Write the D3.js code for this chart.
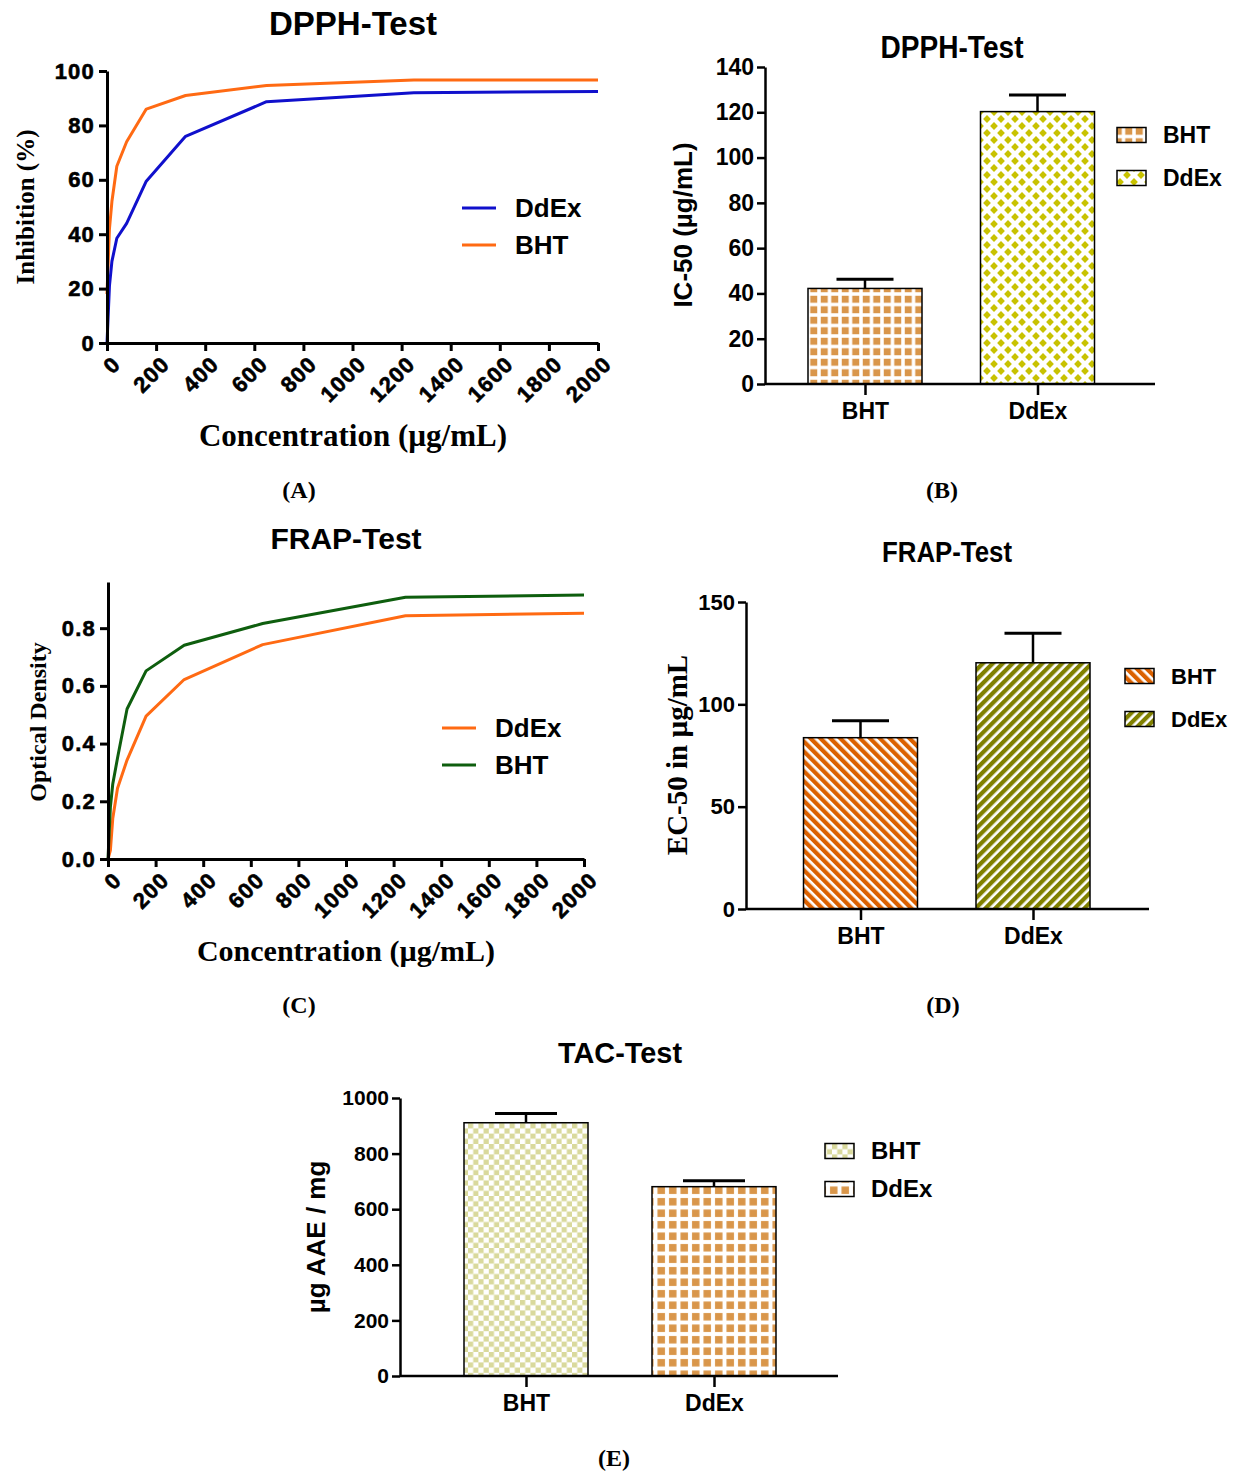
<!DOCTYPE html>
<html lang="en">
<head>
<meta charset="utf-8">
<title>Antioxidant tests</title>
<script src="https://d3js.org/d3.v7.min.js"></script>
<style>
  body { margin: 0; background: #fff; }
  svg { display: block; }
  .sans { font-family: "Liberation Sans", Arial, sans-serif; font-weight: bold; }
  .serif { font-family: "Liberation Serif", "Times New Roman", serif; font-weight: bold; }
  .heavy { stroke: #000; stroke-width: 0.6px; }
</style>
</head>
<body>
<div id="chart"></div>
<script>
// ---- data ----
const conc = [0, 10, 20, 40, 80, 160, 320, 650, 1250, 2000];
const dpphDdEx = [0, 21, 30, 38.5, 44, 59.5, 76, 88.7, 92, 92.5];
const dpphBHT = [18, 42, 52, 65, 74, 86, 91, 94.7, 96.7, 96.7];
const frapDdEx = [0, 0.03, 0.14, 0.245, 0.343, 0.495, 0.622, 0.743, 0.843, 0.852];
const frapBHT = [0, 0.18, 0.26, 0.35, 0.52, 0.652, 0.741, 0.816, 0.907, 0.915];
const concTicks = [0, 200, 400, 600, 800, 1000, 1200, 1400, 1600, 1800, 2000];

const groups = ["BHT", "DdEx"];
const ic50Mean = [42.2, 120.3];
const ic50Err = [4.1, 7.3];
const ec50Mean = [83.7, 120.3];
const ec50Err = [8.3, 14.4];
const tacMean = [911, 681];
const tacErr = [33, 21];

const W = 1235, H = 1472;
const svg = d3.select("#chart").append("svg").attr("width", W).attr("height", H);
const defs = svg.append("defs");

// ---- fill patterns ----
function squares(id, size, box, color) {
  const p = defs.append("pattern").attr("id", id).attr("patternUnits", "userSpaceOnUse")
    .attr("width", size).attr("height", size);
  p.append("rect").attr("width", size).attr("height", size).attr("fill", "#fff");
  p.append("rect").attr("x", (size - box) / 2).attr("y", (size - box) / 2)
    .attr("width", box).attr("height", box).attr("fill", color);
}
function stripes(id, angle, pitch, band, color) {
  const p = defs.append("pattern").attr("id", id).attr("patternUnits", "userSpaceOnUse")
    .attr("width", pitch).attr("height", pitch).attr("patternTransform", `rotate(${angle})`);
  p.append("rect").attr("width", pitch).attr("height", pitch).attr("fill", "#fff");
  p.append("rect").attr("width", band).attr("height", pitch).attr("fill", color);
}
function diamonds(id, w, h, r, color) {
  const p = defs.append("pattern").attr("id", id).attr("patternUnits", "userSpaceOnUse")
    .attr("width", w).attr("height", h);
  p.append("rect").attr("width", w).attr("height", h).attr("fill", "#fff");
  [[w / 2, h / 2], [0, 0], [w, 0], [0, h], [w, h]].forEach(([cx, cy]) => {
    p.append("path").attr("d", `M${cx},${cy - r}L${cx + r},${cy}L${cx},${cy + r}L${cx - r},${cy}Z`).attr("fill", color);
  });
}
function checker(id, cell, color) {
  const p = defs.append("pattern").attr("id", id).attr("patternUnits", "userSpaceOnUse")
    .attr("width", cell * 2).attr("height", cell * 2);
  p.append("rect").attr("width", cell * 2).attr("height", cell * 2).attr("fill", "#fff");
  p.append("rect").attr("width", cell).attr("height", cell).attr("fill", color);
  p.append("rect").attr("x", cell).attr("y", cell).attr("width", cell).attr("height", cell).attr("fill", color);
}
squares("sqB", 10.5, 7, "#d9964a");
diamonds("dia", 14, 14, 3.9, "#c8c200");
stripes("strOr", -45, 7, 4.3, "#db6100");
stripes("strOl", 45, 7, 4.3, "#808000");
checker("chk", 5.2, "#d9d99c");
squares("sqE", 11.5, 7.5, "#d9964a");

// ---- line panels ----
function linePanel(c) {
  const g = svg.append("g");
  const x = d3.scaleLinear().domain([0, 2000]).range([c.x0, c.x1]);
  const y = d3.scaleLinear().domain(c.yDomain).range([c.y0, c.y1]);

  c.series.forEach(s => {
    const line = d3.line().x((d, i) => x(conc[i])).y(d => y(d));
    g.append("path").datum(s.values).attr("fill", "none").attr("stroke", s.color)
      .attr("stroke-width", 3).attr("stroke-linejoin", "round").attr("d", line);
  });

  const ya = g.append("g").attr("transform", `translate(${c.x0},0)`)
    .call(d3.axisLeft(y).tickValues(c.yTicks).tickFormat(c.fmt).tickSize(8).tickPadding(4).tickSizeOuter(0));
  const xa = g.append("g").attr("transform", `translate(0,${c.y0})`)
    .call(d3.axisBottom(x).tickValues(concTicks).tickFormat(d3.format("d")).tickSize(8).tickSizeOuter(0));
  [ya, xa].forEach(a => {
    a.select(".domain").attr("stroke", "#000").attr("stroke-width", 3);
    a.selectAll(".tick line").attr("stroke", "#000").attr("stroke-width", 3);
    a.selectAll("text").attr("class", "sans heavy").attr("font-size", 22).attr("letter-spacing", 1.2).attr("fill", "#000");
  });
  xa.selectAll("text").attr("text-anchor", "end").attr("x", 0).attr("y", 0).attr("dy", "0.35em")
    .attr("transform", "translate(9,17) rotate(-45)");

  g.append("text").attr("class", "sans").attr("font-size", c.titleSize).attr("text-anchor", "middle")
    .attr("x", c.title[0]).attr("y", c.title[1]).text(c.titleText);
  g.append("text").attr("class", "serif").attr("font-size", c.ylabSize).attr("text-anchor", "middle")
    .attr("transform", `translate(${c.ylab[0]},${c.ylab[1]}) rotate(-90)`).attr("dy", "0.35em").text(c.ylabText);
  g.append("text").attr("class", "serif").attr("font-size", c.xlabSize).attr("text-anchor", "middle")
    .attr("x", c.xlab[0]).attr("y", c.xlab[1]).text("Concentration (µg/mL)");

  c.legend.forEach((s, i) => {
    const ly = c.leg[1] + i * 37;
    g.append("line").attr("x1", c.leg[0]).attr("x2", c.leg[0] + 34).attr("y1", ly).attr("y2", ly)
      .attr("stroke", s.color).attr("stroke-width", 3);
    g.append("text").attr("class", "sans").attr("font-size", 26).attr("x", c.leg[0] + 53).attr("y", ly)
      .attr("dy", "0.35em").text(s.name);
  });
}

const blue = "#1010cc", orange = "#ff6a13", green = "#0e5e0e";

linePanel({
  x0: 107, x1: 598, y0: 343, y1: 71, yDomain: [0, 100], yTicks: [0, 20, 40, 60, 80, 100], fmt: d3.format("d"),
  series: [{ values: dpphBHT, color: orange }, { values: dpphDdEx, color: blue }],
  legend: [{ name: "DdEx", color: blue }, { name: "BHT", color: orange }],
  titleText: "DPPH-Test", title: [353, 35], titleSize: 33,
  ylabText: "Inhibition (%)", ylab: [25, 207], ylabSize: 25,
  xlab: [353, 446], xlabSize: 31, leg: [462, 208]
});
linePanel({
  x0: 108, x1: 584, y0: 859, y1: 582, yDomain: [0, 0.96], yTicks: [0, 0.2, 0.4, 0.6, 0.8], fmt: d3.format(".1f"),
  series: [{ values: frapDdEx, color: orange }, { values: frapBHT, color: green }],
  legend: [{ name: "DdEx", color: orange }, { name: "BHT", color: green }],
  titleText: "FRAP-Test", title: [346, 549], titleSize: 30,
  ylabText: "Optical Density", ylab: [38, 722], ylabSize: 24,
  xlab: [346, 961], xlabSize: 30, leg: [442, 728]
});

// ---- bar panels ----
function barPanel(c) {
  const g = svg.append("g");
  const x = d3.scalePoint().domain(groups).range(c.centers);
  const y = d3.scaleLinear().domain(c.yDomain).range([c.y0, c.y1]);
  const rows = groups.map((k, i) => ({ k, m: c.mean[i], e: c.err[i], fill: c.fills[i] }));

  g.selectAll(".bar").data(rows).enter().append("rect")
    .attr("x", d => x(d.k) - c.bw / 2).attr("width", c.bw)
    .attr("y", d => y(d.m)).attr("height", d => y(0) - y(d.m))
    .attr("fill", d => `url(#${d.fill})`).attr("stroke", "#000").attr("stroke-width", 1.5);

  const eb = g.selectAll(".err").data(rows).enter().append("g");
  eb.append("line").attr("x1", d => x(d.k)).attr("x2", d => x(d.k))
    .attr("y1", d => y(d.m)).attr("y2", d => y(d.m + d.e)).attr("stroke", "#000").attr("stroke-width", 2.5);
  eb.append("line").attr("x1", d => x(d.k) - c.bw / 4).attr("x2", d => x(d.k) + c.bw / 4)
    .attr("y1", d => y(d.m + d.e)).attr("y2", d => y(d.m + d.e)).attr("stroke", "#000").attr("stroke-width", 3);

  const ya = g.append("g").attr("transform", `translate(${c.x0},0)`)
    .call(d3.axisLeft(y).tickValues(c.yTicks).tickFormat(d3.format("d")).tickSize(8).tickPadding(3).tickSizeOuter(0));
  ya.select(".domain").attr("stroke", "#000").attr("stroke-width", 2.5);
  ya.selectAll(".tick line").attr("stroke", "#000").attr("stroke-width", 2.5);
  ya.selectAll("text").attr("class", "sans").attr("font-size", c.tickSize).attr("fill", "#000");

  // category axis: baseline through the whole panel, ticks at bar centres
  g.append("line").attr("x1", c.x0).attr("x2", c.xEnd).attr("y1", c.y0).attr("y2", c.y0)
    .attr("stroke", "#000").attr("stroke-width", 2.5);
  const xa = g.append("g").attr("transform", `translate(0,${c.y0})`)
    .call(d3.axisBottom(x).tickSize(11).tickPadding(8));
  xa.select(".domain").remove();
  xa.selectAll(".tick line").attr("stroke", "#000").attr("stroke-width", 2.5);
  xa.selectAll("text").attr("class", "sans").attr("font-size", 23).attr("fill", "#000");

  g.append("text").attr("class", "sans").attr("font-size", c.titleSize).attr("text-anchor", "middle")
    .attr("x", c.title[0]).attr("y", c.title[1])
    .attr("textLength", c.titleLen).attr("lengthAdjust", "spacingAndGlyphs").text(c.titleText);
  g.append("text").attr("class", c.ylabClass).attr("font-size", c.ylabSize).attr("text-anchor", "middle")
    .attr("transform", `translate(${c.ylab[0]},${c.ylab[1]}) rotate(-90)`).attr("dy", "0.35em").text(c.ylabText);

  rows.forEach((d, i) => {
    const ly = c.leg[1] + i * c.legGap;
    g.append("rect").attr("x", c.leg[0]).attr("y", ly - 7.5).attr("width", 29).attr("height", 15)
      .attr("fill", `url(#${d.fill})`).attr("stroke", "#000").attr("stroke-width", 1.5);
    g.append("text").attr("class", "sans").attr("font-size", c.legSize).attr("x", c.leg[0] + 46).attr("y", ly)
      .attr("dy", "0.35em").text(d.k);
  });
}

barPanel({
  x0: 765, xEnd: 1155, y0: 384, y1: 67, yDomain: [0, 140], yTicks: d3.range(0, 141, 20),
  centers: [865, 1037.5], bw: 114, mean: ic50Mean, err: ic50Err, fills: ["sqB", "dia"], tickSize: 23,
  titleText: "DPPH-Test", title: [952, 58], titleSize: 32, titleLen: 143,
  ylabText: "IC-50 (µg/mL)", ylab: [683, 225], ylabClass: "sans", ylabSize: 26,
  leg: [1117, 135], legGap: 43, legSize: 23
});
barPanel({
  x0: 746, xEnd: 1149, y0: 909, y1: 602, yDomain: [0, 150], yTicks: [0, 50, 100, 150],
  centers: [860.5, 1033], bw: 114, mean: ec50Mean, err: ec50Err, fills: ["strOr", "strOl"], tickSize: 22,
  titleText: "FRAP-Test", title: [947, 562], titleSize: 30, titleLen: 130,
  ylabText: "EC-50 in µg/mL", ylab: [677, 755], ylabClass: "serif", ylabSize: 29,
  leg: [1125, 676], legGap: 43, legSize: 22
});
barPanel({
  x0: 400, xEnd: 838, y0: 1376, y1: 1098, yDomain: [0, 1000], yTicks: d3.range(0, 1001, 200),
  centers: [526, 714], bw: 124, mean: tacMean, err: tacErr, fills: ["chk", "sqE"], tickSize: 21,
  titleText: "TAC-Test", title: [620, 1063], titleSize: 30, titleLen: 124,
  ylabText: "µg AAE / mg", ylab: [316, 1237], ylabClass: "sans", ylabSize: 26,
  leg: [825, 1151], legGap: 38, legSize: 24
});

// ---- panel letters ----
const letters = ["(A)", "(B)", "(C)", "(D)", "(E)"];
const letterPos = [[299, 498], [942, 498], [299, 1013], [943, 1013], [614, 1466]];
svg.selectAll(".letter").data(letters).enter().append("text").attr("class", "serif").attr("font-size", 24)
  .attr("text-anchor", "middle").attr("x", (d, i) => letterPos[i][0]).attr("y", (d, i) => letterPos[i][1]).text(d => d);
</script>
</body>
</html>
